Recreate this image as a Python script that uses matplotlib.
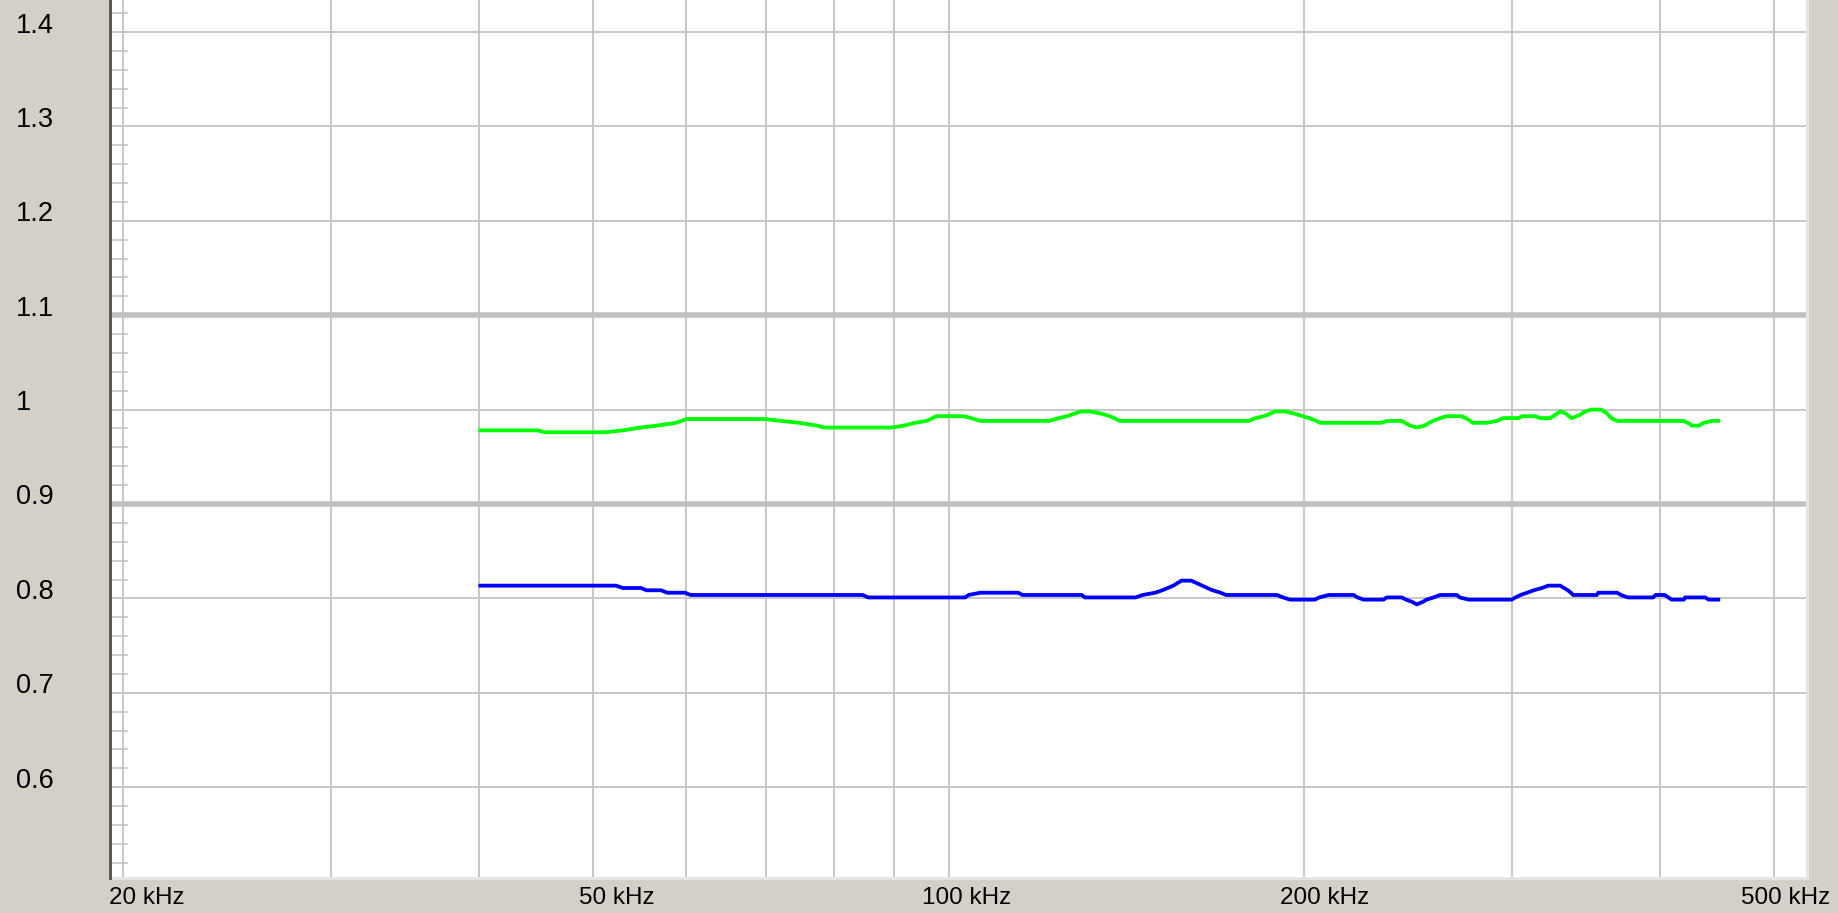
import matplotlib
matplotlib.use("Agg")
import matplotlib.pyplot as plt
import matplotlib.transforms as mtransforms
from matplotlib.ticker import FixedLocator, NullFormatter

# ---------------- data ----------------
green_freq = [40.0, 44.9, 45.5, 51.2, 53.0, 54.9, 56.6, 58.8, 60.0, 69.9, 72.2, 74.7,
              77.4, 78.5, 89.5, 91.7, 93.7, 95.8, 97.7, 102.9, 104.5, 106.4, 121.7,
              124.0, 126.0, 128.0, 129.5, 131.8, 134.4, 137.0, 139.7, 179.5, 182.0,
              185.0, 187.5, 189.0, 192.7, 196.0, 199.5, 202.0, 205.0, 206.3, 232.7,
              235.0, 242.0, 246.0, 249.2, 253.0, 257.0, 261.0, 264.0, 272.0, 275.0,
              278.0, 285.6, 291.2, 295.0, 303.9, 306.0, 313.8, 317.0, 323.2, 326.0,
              329.6, 333.0, 337.0, 342.0, 346.0, 350.0, 357.0, 361.0, 364.0, 368.3,
              419.3, 424.0, 426.0, 432.0, 436.0, 443.0, 450.2]
green_val = [0.978, 0.978, 0.976, 0.976, 0.978, 0.981, 0.983, 0.986, 0.990, 0.990, 0.988, 0.986,
             0.983, 0.981, 0.981, 0.983, 0.986, 0.988, 0.993, 0.993, 0.991, 0.988, 0.988,
             0.991, 0.993, 0.996, 0.998, 0.998, 0.996, 0.993, 0.988, 0.988, 0.991,
             0.993, 0.996, 0.998, 0.998, 0.996, 0.993, 0.991, 0.988, 0.986, 0.986,
             0.988, 0.988, 0.983, 0.981, 0.983, 0.988, 0.991, 0.993, 0.993, 0.990,
             0.986, 0.986, 0.988, 0.991, 0.991, 0.993, 0.993, 0.991, 0.991, 0.994,
             0.998, 0.996, 0.991, 0.994, 0.998, 1.000, 1.000, 0.996, 0.991, 0.988,
             0.988, 0.985, 0.983, 0.983, 0.986, 0.988, 0.988]

blue_freq = [40.0, 52.3, 53.0, 54.9, 55.5, 57.1, 57.8, 59.8, 60.5, 84.6, 85.5, 103.3,
             104.0, 106.4, 114.6, 115.5, 129.7, 130.5, 144.0, 146.0, 149.6, 152.0,
             155.0, 157.5, 160.5, 164.0, 167.0, 170.0, 171.8, 189.7, 192.0, 194.6,
             204.3, 206.0, 209.8, 220.3, 222.0, 224.6, 233.5, 235.0, 242.0, 244.0,
             247.0, 249.2, 252.0, 254.0, 257.4, 260.8, 269.4, 271.0, 275.8, 299.8,
             302.0, 305.0, 309.0, 313.0, 318.0, 322.0, 329.6, 332.0, 334.5, 336.5,
             338.0, 353.9, 355.0, 368.3, 371.0, 376.1, 394.9, 397.0, 404.0, 407.0,
             409.5, 419.3, 420.5, 437.3, 440.2, 450.2]
blue_val = [0.8135, 0.8135, 0.811, 0.811, 0.8086, 0.8086, 0.806, 0.806, 0.8036, 0.8036, 0.801, 0.801,
            0.8036, 0.806, 0.806, 0.8036, 0.8036, 0.801, 0.801, 0.8036, 0.806, 0.809,
            0.8135, 0.8188, 0.8188, 0.8135, 0.809, 0.806, 0.8036, 0.8036, 0.801, 0.7987,
            0.7987, 0.801, 0.8036, 0.8036, 0.801, 0.7987, 0.7987, 0.801, 0.801, 0.7987,
            0.7962, 0.7937, 0.7962, 0.7987, 0.801, 0.8036, 0.8036, 0.801, 0.7987, 0.7987,
            0.801, 0.8036, 0.806, 0.8086, 0.811, 0.8135, 0.8135, 0.811, 0.8086, 0.806,
            0.8036, 0.8036, 0.806, 0.806, 0.8036, 0.801, 0.801, 0.8036, 0.8036, 0.801,
            0.7987, 0.7987, 0.801, 0.801, 0.7987, 0.7987]

x_grid = [20, 30, 40, 50, 60, 70, 80, 90, 100, 200, 300, 400, 500]
x_tick_vals = [20, 50, 100, 200, 500]
x_tick_labels = ["20 kHz", "50 kHz", "100 kHz", "200 kHz", "500 kHz"]
y_tick_vals = [1.4, 1.3, 1.2, 1.1, 1.0, 0.9, 0.8, 0.7, 0.6]
y_tick_labels = ["1.4", "1.3", "1.2", "1.1", "1", "0.9", "0.8", "0.7", "0.6"]
limit_lines = [1.1, 0.9]

# ---------------- figure ----------------
W, H, DPI = 1838, 913, 100
fig = plt.figure(figsize=(W / DPI, H / DPI), dpi=DPI, facecolor="#D4D0C8")
ax = fig.add_axes([110 / W, (H - 878) / H, (1807 - 110) / W, 878 / H])
ax.set_facecolor("white")
ax.set_xscale("log")
ax.set_xlim(19.50, 533.2)
ax.set_ylim(0.5038, 1.4339)

px = 72.0 / DPI  # points per pixel

for xv in x_grid:
    ax.axvline(xv, color="#C8C8C8", lw=2 * px, zorder=1)
for yv in y_tick_vals:
    ax.axhline(yv, color="#C8C8C8", lw=2 * px, zorder=1)
for yv in limit_lines:
    ax.axhline(yv, color="#C0C0C0", lw=5.5 * px, zorder=1.5)

ax.plot(green_freq, green_val, color="#00FF00", lw=3.8 * px, zorder=3,
        solid_joinstyle="miter", solid_capstyle="butt")
ax.plot(blue_freq, blue_val, color="#0000FF", lw=3.8 * px, zorder=3,
        solid_joinstyle="miter", solid_capstyle="butt")

# ticks
ax.set_xticks([])
ax.set_xticks([], minor=True)
ax.set_yticks([])
minor = [round(0.5 + 0.02 * i, 2) for i in range(0, 48)]
minor = [m for m in minor if abs(m * 10 - round(m * 10)) > 1e-6]
ax.yaxis.set_minor_locator(FixedLocator(minor))
ax.yaxis.set_minor_formatter(NullFormatter())
ax.tick_params(axis="y", which="minor", direction="in", length=18 * px,
               width=1.5 * px, color="#C0C0C0", left=True, right=False)

# spines
ax.spines["top"].set_visible(False)
ax.spines["left"].set_color("#5A5A5A")
ax.spines["left"].set_linewidth(3 * px)
ax.spines["right"].set_color("#E4E4E4")
ax.spines["right"].set_linewidth(3 * px)
ax.spines["bottom"].set_color("#E4E4E4")
ax.spines["bottom"].set_linewidth(3 * px)
ax.spines["left"].set_zorder(4)

font = "Liberation Sans"

# x labels (pixel offsets relative to gridline)
x_offsets = [(-14, "left"), (-14, "left"), (-27, "left"), (-24, "left"), (56, "right")]
xb = mtransforms.blended_transform_factory(ax.transData, fig.transFigure)
for v, lab, (dx, ha) in zip(x_tick_vals, x_tick_labels, x_offsets):
    tr = xb + mtransforms.ScaledTranslation(dx / DPI, 0, fig.dpi_scale_trans)
    ax.text(v, (H - 898) / H, lab, transform=tr, ha=ha, va="center",
            fontsize=17.5, family=font, color="black", clip_on=False)

# y labels
yb = mtransforms.blended_transform_factory(fig.transFigure, ax.transData)
for v, lab in zip(y_tick_vals, y_tick_labels):
    tr = yb + mtransforms.ScaledTranslation(0, 6.5 / DPI, fig.dpi_scale_trans)
    ax.text(16 / W, v, lab, transform=tr, ha="left", va="center",
            fontsize=19.5, family=font, color="black", clip_on=False)

fig.savefig("out.png", dpi=DPI, facecolor=fig.get_facecolor())
